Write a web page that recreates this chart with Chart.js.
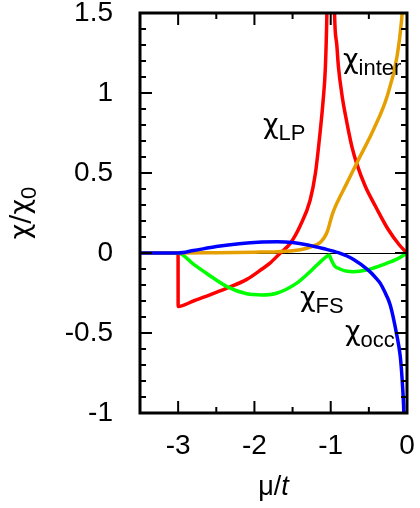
<!DOCTYPE html>
<html>
<head>
<meta charset="utf-8">
<script src="https://cdn.jsdelivr.net/npm/chart.js@4/dist/chart.umd.min.js"></script>
<style>body{margin:0;background:#fff}canvas{display:block}</style>
</head>
<body>
<canvas id="c" width="420" height="508"></canvas>
<script>
var FONT = '"Liberation Sans", Arial, sans-serif';
var CHI_FONT = '"DejaVu Sans", sans-serif';

var xTicks = [-3, -2, -1, 0];
var yTicks = [-1, -0.5, 0, 0.5, 1, 1.5];
var xMinor = [-2.5, -1.5, -0.5];
var yMinor = [-0.9, -0.8, -0.7, -0.6, -0.4, -0.3, -0.2, -0.1, 0.1, 0.2, 0.3, 0.4, 0.6, 0.7, 0.8, 0.9, 1.1, 1.2, 1.3, 1.4];

// chi_occ (blue)
var occX = [-3.5, -3, -2.8, -2.5, -2.2, -1.9, -1.7, -1.5, -1.3, -1.1, -0.9, -0.7, -0.5, -0.4, -0.35, -0.3, -0.22, -0.135, -0.09, -0.065, -0.045, -0.035];
var occY = [0, 0, 0.015, 0.04, 0.058, 0.068, 0.07, 0.065, 0.05, 0.028, 0.002, -0.04, -0.11, -0.16, -0.19, -0.235, -0.325, -0.51, -0.64, -0.78, -0.95, -1.1];
// chi_inter (orange)
var interX = [-3.5, -3, -2.5, -2, -1.7, -1.4, -1.25, -1.14, -1.08, -1.04, -1.01, -0.98, -0.94, -0.88, -0.79, -0.64, -0.44, -0.26, -0.13, -0.07, -0.05];
var interY = [0, 0, 0.002, 0.005, 0.008, 0.02, 0.04, 0.065, 0.1, 0.14, 0.19, 0.24, 0.29, 0.35, 0.435, 0.58, 0.77, 0.98, 1.23, 1.46, 1.6];
// chi_FS (green)
var fsX = [-3.5, -3, -2.8, -2.63, -2.36, -2.1, -1.9, -1.7, -1.45, -1.3, -1.18, -1.1, -1.05, -1.02, -0.99, -0.95, -0.88, -0.8, -0.7, -0.53, -0.27, -0.12, 0];
var fsY = [0, 0, -0.07, -0.127, -0.21, -0.255, -0.262, -0.25, -0.19, -0.13, -0.075, -0.04, -0.02, -0.014, -0.045, -0.08, -0.1, -0.113, -0.117, -0.106, -0.065, -0.035, 0];
// chi_LP (red)
var lpX = [-3.5, -3.001, -3, -2.8, -2.6, -2.36, -2.1, -1.9, -1.8, -1.66, -1.53, -1.4, -1.27, -1.2, -1.14, -1.1, -1.07, -1.05, -1.03, -0.97, -0.95, -0.92, -0.9, -0.85, -0.79, -0.72, -0.66, -0.55, -0.4, -0.25, -0.1, 0];
var lpY = [0, 0, -0.335, -0.3, -0.265, -0.22, -0.165, -0.1, -0.065, 0, 0.06, 0.17, 0.33, 0.5, 0.75, 0.95, 1.16, 1.5, 2.2, 2.2, 1.5, 1.3, 1.17, 0.98, 0.82, 0.66, 0.56, 0.42, 0.28, 0.15, 0.05, 0];

var curveLabels = [
  {sub:'LP', x:-1.888, y:0.706},
  {sub:'inter', x:-0.84, y:1.1125},
  {sub:'FS', x:-1.403, y:-0.375},
  {sub:'occ', x:-0.813, y:-0.5875}
];

function pts(xs, ys){ return xs.map(function(x, i){ return {x:x, y:ys[i]}; }); }

function line(data, color){
  return {data:data, borderColor:color, borderWidth:3.5, pointRadius:0, showLine:true, fill:false, cubicInterpolationMode:'monotone', clip:0};
}

function subText(ctx, x, y, main, s){
  ctx.textAlign = 'left'; ctx.textBaseline = 'alphabetic';
  ctx.font = '27px ' + CHI_FONT;
  ctx.fillText(main, x, y - 7);
  var w = ctx.measureText(main).width;
  ctx.font = '22px ' + FONT;
  ctx.fillText(s, x + w, y);
}

var frame = {
  id:'frame',
  beforeDatasetsDraw: function(chart){
    var ctx = chart.ctx, xs = chart.scales.x, ys = chart.scales.y;
    var p = Math.round(ys.getPixelForValue(0)) + 0.5;
    ctx.save();
    ctx.strokeStyle = '#000'; ctx.lineWidth = 1;
    ctx.beginPath();
    ctx.moveTo(xs.left, p);
    ctx.lineTo(xs.right, p);
    ctx.stroke();
    ctx.restore();
  },
  afterDatasetsDraw: function(chart){
    var ctx = chart.ctx, xs = chart.scales.x, ys = chart.scales.y, a = chart.chartArea;
    ctx.save();
    ctx.strokeStyle = '#000'; ctx.fillStyle = '#000';
    ctx.lineWidth = 2;
    ctx.beginPath();
    function xt(v, len){ var p = xs.getPixelForValue(v); ctx.moveTo(p, a.bottom); ctx.lineTo(p, a.bottom - len); ctx.moveTo(p, a.top); ctx.lineTo(p, a.top + len); }
    function yt(v, len){ var p = ys.getPixelForValue(v); ctx.moveTo(a.left, p); ctx.lineTo(a.left + len, p); ctx.moveTo(a.right, p); ctx.lineTo(a.right - len, p); }
    xTicks.forEach(function(v){ xt(v, 12); });
    xMinor.forEach(function(v){ xt(v, 6); });
    yTicks.forEach(function(v){ yt(v, 12); });
    yMinor.forEach(function(v){ yt(v, 6); });
    ctx.stroke();
    ctx.lineWidth = 3;
    ctx.strokeRect(a.left, a.top, a.right - a.left, a.bottom - a.top);

    curveLabels.forEach(function(l){
      subText(ctx, xs.getPixelForValue(l.x), ys.getPixelForValue(l.y), '\u03c7', l.sub);
    });

    // y title
    ctx.save();
    ctx.translate(29, (a.top + a.bottom) / 2);
    ctx.rotate(-Math.PI / 2);
    ctx.font = '27px ' + CHI_FONT;
    var w1 = ctx.measureText('\u03c7/\u03c7').width;
    ctx.font = '22px ' + FONT;
    var w2 = ctx.measureText('0').width;
    subText(ctx, -(w1 + w2) / 2, 7, '\u03c7/\u03c7', '0');
    ctx.restore();

    // x title
    ctx.font = '27px ' + FONT;
    var m = ctx.measureText('\u03bc/').width;
    ctx.font = 'italic 27px ' + FONT;
    var t = ctx.measureText('t').width;
    var x0 = (a.left + a.right) / 2 - (m + t) / 2;
    ctx.textAlign = 'left'; ctx.textBaseline = 'alphabetic';
    ctx.font = '27px ' + FONT;
    ctx.fillText('\u03bc/', x0, 495);
    ctx.font = 'italic 27px ' + FONT;
    ctx.fillText('t', x0 + m, 495);
    ctx.restore();
  }
};

function fmt(v){ return String(v); }

new Chart(document.getElementById('c'), {
  type:'scatter',
  data:{datasets:[
    line(pts(occX, occY), '#0000ff'),
    line(pts(interX, interY), '#e69f00'),
    line(pts(fsX, fsY), '#00ff00'),
    line(pts(lpX, lpY), '#ff0000')
  ]},
  options:{
    responsive:false, animation:false, devicePixelRatio:1,
    layout:{padding:{left:0, right:13, top:13, bottom:0}},
    plugins:{legend:{display:false}, tooltip:{enabled:false}},
    scales:{
      x:{type:'linear', min:-3.5, max:0,
        grid:{display:false}, border:{display:false},
        ticks:{color:'#000', padding:11, font:{family:FONT, size:28, lineHeight:1}, callback:fmt},
        afterBuildTicks:function(s){ s.ticks = xTicks.map(function(v){ return {value:v}; }); },
        afterFit:function(s){ s.height = 95; s.paddingLeft = 0; s.paddingRight = 0; }
      },
      y:{type:'linear', min:-1, max:1.5,
        grid:{display:false}, border:{display:false},
        ticks:{color:'#000', padding:19, font:{family:FONT, size:28, lineHeight:1}, callback:fmt},
        afterBuildTicks:function(s){ s.ticks = yTicks.map(function(v){ return {value:v}; }); },
        afterFit:function(s){ s.width = 140; s.paddingTop = 0; s.paddingBottom = 0; }
      }
    }
  },
  plugins:[frame]
});
</script>
</body>
</html>
